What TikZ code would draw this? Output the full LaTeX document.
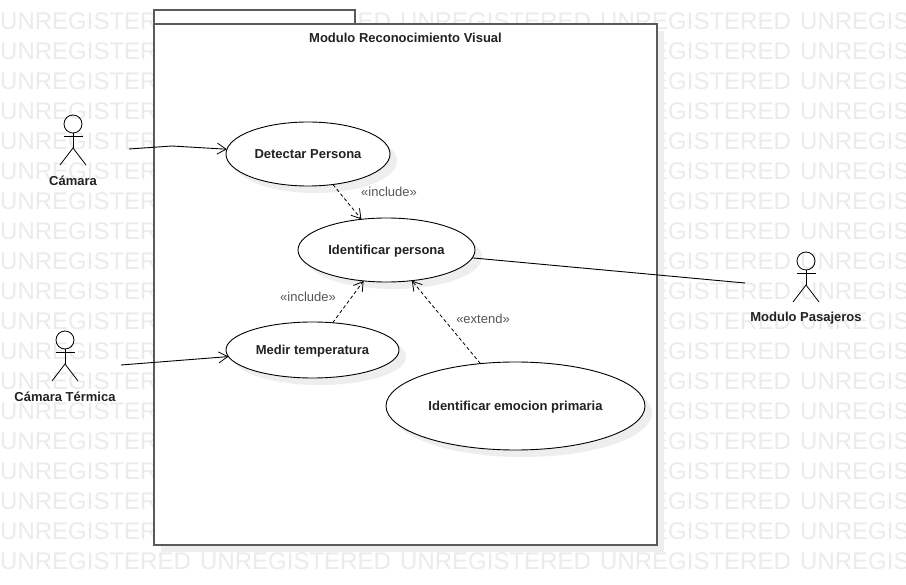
\documentclass[tikz,border=0pt]{standalone}
\usepackage{fontspec}
\setmainfont{Liberation Sans}
\usetikzlibrary{shapes.geometric,arrows.meta}
\definecolor{wm}{HTML}{EBEBEB}
\definecolor{shadowc}{HTML}{EEEEEE}
\definecolor{framec}{HTML}{5A5A5A}
\definecolor{ink}{HTML}{222222}
\definecolor{stereo}{HTML}{555555}
\tikzset{
  x=1pt,y=-1pt,
  watermark/.style={text=wm,font=\fontsize{24}{24}\selectfont,anchor=west,inner sep=0pt},
  usecase/.style={ellipse,draw=black,line width=0.9pt,fill=white,inner sep=0pt,outer sep=0pt,text=ink,text height=12pt,text depth=2pt,font=\fontsize{13}{15}\selectfont\bfseries},
  caseshadow/.style={ellipse,fill=shadowc,inner sep=0pt,outer sep=0pt},
  framebox/.style={draw=framec,line width=1.6pt,fill=white},
  actorline/.style={draw=black,line width=0.8pt},
  actorlabel/.style={text=ink,inner sep=0pt,font=\fontsize{13}{15}\selectfont\bfseries},
  assoc/.style={draw=black,line width=0.9pt},
  dep/.style={draw=black,line width=0.8pt,dash pattern=on 3.5pt off 2.5pt},
  vtip/.style={-{Straight Barb[length=9pt,width=11pt,line width=0.8pt]}},
  stereotype/.style={text=stereo,inner sep=0pt,font=\fontsize{13}{15}\selectfont},
}
\newcommand{\actorfig}[2]{%
  \draw[actorline] (#1,#2) circle[radius=9];
  \draw[actorline] (#1,#2+9) -- (#1,#2+24);
  \draw[actorline] (#1-9.5,#2+12.5) -- (#1+9.5,#2+12.5);
  \draw[actorline] (#1-13,#2+41) -- (#1,#2+24) -- (#1+13,#2+41);
}
\begin{document}
\begin{tikzpicture}
\useasboundingbox (0,0) rectangle (906,585);
\begin{scope}
  \clip (0,0) rectangle (906,585);
  \fill[white] (0,0) rectangle (906,585);
  \foreach \r in {21,51,...,561}
    \foreach \c in {0,200,400,600,800}
      \node[watermark] (wm-\c-\r) at (\c,\r) {UNREGISTERED};
\end{scope}
% frame
\fill[shadowc] (161,31) rectangle (664,552);
\draw[framebox] (154,10) rectangle (355,24);
\draw[framebox] (154,24) rectangle (657,545);
\node[text=ink,inner sep=0pt,font=\fontsize{13}{15}\selectfont\bfseries] (title) at (405.5,37.5) {Modulo Reconocimiento Visual};
% shadows
\node[caseshadow,minimum width=164pt,minimum height=64pt] (s1) at (315,161) {};
\node[caseshadow,minimum width=177pt,minimum height=64pt] (s2) at (393.5,257) {};
\node[caseshadow,minimum width=173pt,minimum height=56pt] (s3) at (319.5,357) {};
\node[caseshadow,minimum width=259pt,minimum height=88pt] (s4) at (522.5,413) {};
% use cases
\node[usecase,minimum width=164pt,minimum height=64pt] (det) at (308,154) {Detectar Persona};
\node[usecase,minimum width=177pt,minimum height=64pt] (ide) at (386.5,250) {Identificar persona};
\node[usecase,minimum width=173pt,minimum height=56pt] (med) at (312.5,350) {Medir temperatura};
\node[usecase,minimum width=259pt,minimum height=88pt] (emo) at (515.5,406) {Identificar emocion primaria};
% actors
\actorfig{73}{124}
\node[actorlabel] (lcam) at (73,181) {Cámara};
\actorfig{65}{340}
\node[actorlabel] (lter) at (65,397) {Cámara Térmica};
\actorfig{806}{261}
\node[actorlabel] (lpas) at (806,318) {Modulo Pasajeros};
% free ends
\coordinate (camout) at (129,149);
\coordinate (cambend) at (172,146);
\coordinate (terout) at (121,365);
\coordinate (pasout) at (745,283);
% connectors
\draw[assoc,vtip] (camout) -- (cambend) -- (det);
\draw[assoc,vtip] (terout) -- (med);
\draw[assoc] (ide) -- (pasout);
\draw[dep,vtip] (det) -- (ide);
\draw[dep,vtip] (med) -- (ide);
\draw[dep,vtip] (emo) -- (ide);
% stereotypes
\node[stereotype] (st1) at (389,192) {«include»};
\node[stereotype] (st2) at (308,296.5) {«include»};
\node[stereotype] (st3) at (483,319) {«extend»};
\end{tikzpicture}
\end{document}
